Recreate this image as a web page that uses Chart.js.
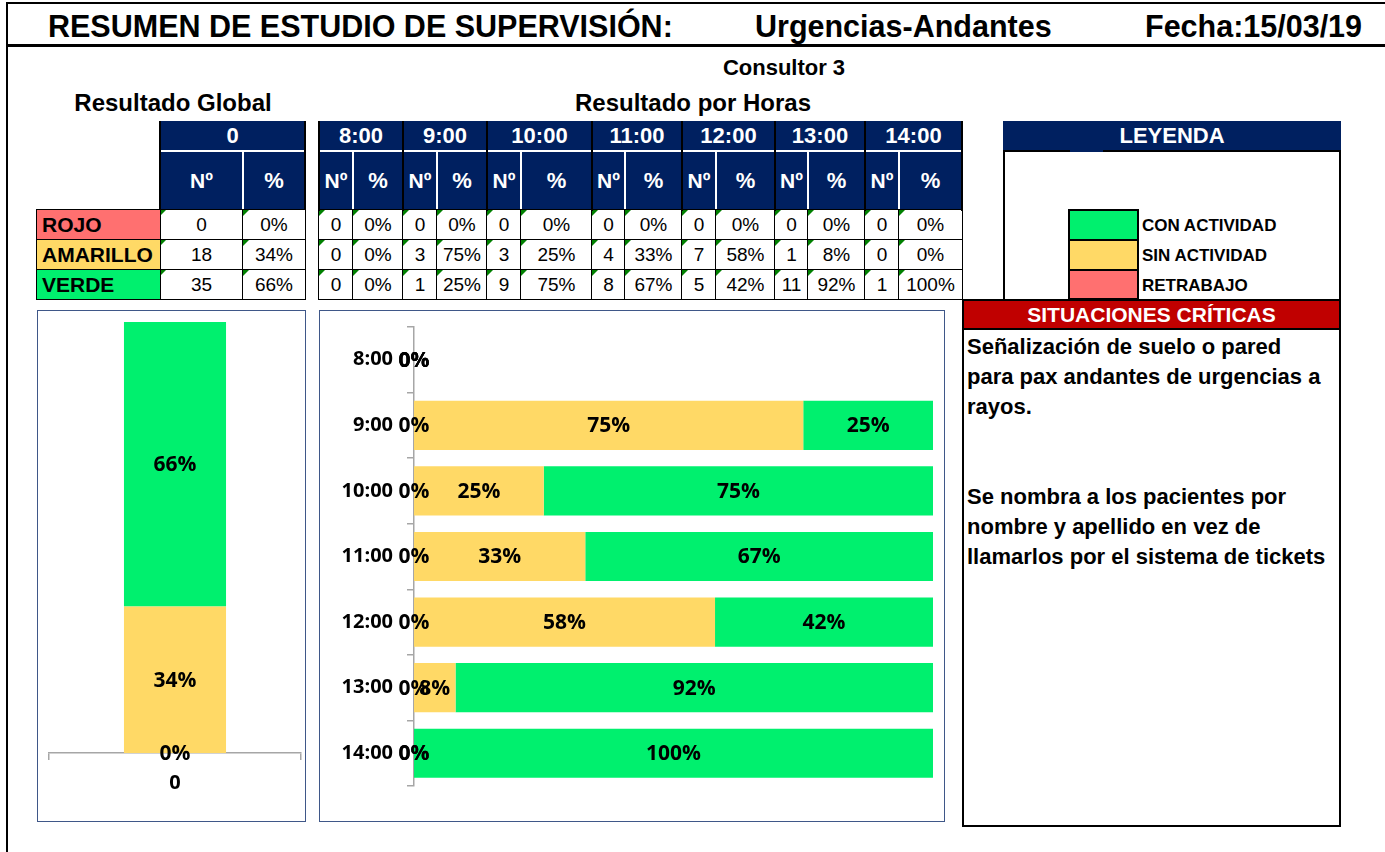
<!DOCTYPE html>
<html lang="es">
<head>
<meta charset="utf-8">
<title>Resumen de estudio de supervisión</title>
<script src="https://cdn.jsdelivr.net/npm/chart.js@4.4.1/dist/chart.umd.min.js"></script>
<style>
  body { margin: 0; width: 1385px; height: 852px; overflow: hidden; background: #fff; position: relative;
         font-family: "Liberation Sans", Arial, sans-serif; color: #000; }
  .abs { position: absolute; box-sizing: border-box; }
  .txt { position: absolute; font-weight: bold; white-space: nowrap; line-height: 1; }
  .hd { position: absolute; box-sizing: border-box; background: #002060; color: #fff; font-weight: bold;
        display: flex; align-items: center; justify-content: center; }
  .val { position: absolute; box-sizing: border-box; background: #fff; border: 1px solid #000; font-size: 19px;
         display: flex; align-items: center; justify-content: center; }
  .val::before { content: ''; position: absolute; left: 0; top: 0;
                 border-top: 6px solid #008000; border-right: 6px solid transparent; }
  .lbl { position: absolute; box-sizing: border-box; border: 1px solid #000; font-size: 21px; font-weight: bold;
         display: flex; align-items: center; padding-left: 5px; }
  .marco { position: absolute; box-sizing: border-box; border: 1.5px solid #3F5788; }
  canvas { position: absolute; }
</style>
</head>
<body>
<canvas id="global" width="266" height="509" style="left:38px; top:311px;"></canvas>
<canvas id="horas" width="622" height="509" style="left:320px; top:311px;"></canvas>
<script>
// valores del estudio
const estados = ['ROJO', 'AMARILLO', 'VERDE'];
const grupos = ['0'];
const globalNum = [0, 18, 35];
const globalPct = [0, 34, 66];

const horas = ['8:00', '9:00', '10:00', '11:00', '12:00', '13:00', '14:00'];
const rojoNum = [0, 0, 0, 0, 0, 0, 0];
const amarilloNum = [0, 3, 3, 4, 7, 1, 0];
const verdeNum = [0, 1, 9, 8, 5, 11, 1];
const rojoPct = [0, 0, 0, 0, 0, 0, 0];
const amarilloPct = [0, 75, 25, 33, 58, 8, 0];
const verdePct = [0, 25, 75, 67, 42, 92, 100];

const leyenda = ['CON ACTIVIDAD', 'SIN ACTIVIDAD', 'RETRABAJO'];
const situaciones = [
  'Señalización de suelo o pared',
  'para pax andantes de urgencias a',
  'rayos.',
  '',
  '',
  'Se nombra a los pacientes por',
  'nombre y apellido en vez de',
  'llamarlos por el sistema de tickets'
];

const colorRojo = '#FF7070';
const colorAmarillo = '#FFD966';
const colorVerde = '#00F06E';
const coloresEstado = [colorRojo, colorAmarillo, colorVerde];
const coloresLeyenda = [colorVerde, colorAmarillo, colorRojo];

// helpers de maquetacion
function el(cls, x, y, w, h, text, extra) {
  const d = document.createElement('div');
  d.className = cls;
  d.style.left = x + 'px';
  d.style.top = y + 'px';
  if (w != null) d.style.width = w + 'px';
  if (h != null) d.style.height = h + 'px';
  if (text != null) d.textContent = text;
  if (extra) Object.assign(d.style, extra);
  document.body.appendChild(d);
  return d;
}
function line(x, y, w, h, color) {
  return el('abs', x, y, w, h, null, { background: color });
}
function texto(str, x, y, size, centrado, extra) {
  const d = el('txt', x, y, null, null, str, Object.assign({ fontSize: size + 'px' }, extra || {}));
  d.style.transform = centrado ? 'translate(-50%, -50%)' : 'translateY(-50%)';
  return d;
}

// marco y cabecera
line(6, 2, 1379, 2, '#000');
line(6, 2, 2, 850, '#000');
line(6, 44, 1379, 3, '#000');
texto('RESUMEN DE ESTUDIO DE SUPERVISIÓN:', 48, 26, 30.5, false);
texto('Urgencias-Andantes', 755, 26, 30.5, false);
texto('Fecha:15/03/19', 1145, 26, 30.5, false);
texto('Consultor 3', 784, 68, 22, true);
texto('Resultado Global', 173, 103, 24, true);
texto('Resultado por Horas', 693, 103, 24, true);

const filas = [210, 240, 270, 299];

// tabla global
function grupoCabecera(x0, x1, x2, titulo) {
  el('hd', x0, 121, x2 - x0, 30, titulo, { fontSize: '22px' });
  el('hd', x0, 151, x1 - x0, 59, 'Nº', { fontSize: '21px' });
  el('hd', x1, 151, x2 - x1, 59, '%', { fontSize: '22px' });
  line(x0 + 1, 150, x2 - x0 - 2, 2, '#fff');
  line(x1 - 1, 151, 2, 59, '#fff');
}
function valores(x0, x1, x2, nums, pcts) {
  for (let r = 0; r < 3; r++) {
    const y0 = filas[r], y1 = filas[r + 1];
    el('val', x0 - 1, y0 - 1, x1 - x0 + 2, y1 - y0 + 2, String(nums[r]));
    el('val', x1 - 1, y0 - 1, x2 - x1 + 2, y1 - y0 + 2, pcts[r] + '%');
  }
}

grupoCabecera(160, 243, 305, grupos[0]);
line(159, 121, 2, 90, '#000');
line(304, 121, 2, 90, '#000');
valores(160, 243, 305, globalNum, globalPct);
estados.forEach((e, r) => {
  el('lbl', 36, filas[r] - 1, 125, filas[r + 1] - filas[r] + 2, e, { background: coloresEstado[r] });
});

// tabla por horas
const columnas = [[319, 353, 403], [403, 437, 487], [487, 521, 592], [592, 625, 682],
                  [682, 716, 775], [775, 808, 865], [865, 899, 962]];
horas.forEach((h, i) => {
  const [x0, x1, x2] = columnas[i];
  grupoCabecera(x0, x1, x2, h);
  valores(x0, x1, x2, [rojoNum[i], amarilloNum[i], verdeNum[i]], [rojoPct[i], amarilloPct[i], verdePct[i]]);
  line(x0 - 1, 121, 2, 90, '#000');
});
line(961, 121, 2, 90, '#000');

// leyenda
el('abs', 1003, 121, 338, 180, null, { border: '2px solid #000' });
el('hd', 1003, 121, 338, 30, 'LEYENDA', { fontSize: '22px' });
line(1003, 150, 338, 2, '#000');
line(1070, 150, 33, 2, '#002060');
leyenda.forEach((t, r) => {
  el('abs', 1068, filas[r] - 1, 71, filas[r + 1] - filas[r] + 2, null,
     { background: coloresLeyenda[r], border: '2px solid #000' });
  texto(t, 1142, (filas[r] + filas[r + 1]) / 2, 17, false);
});

// situaciones criticas
el('abs', 962, 299, 379, 528, null, { border: '2px solid #000' });
el('hd', 962, 299, 379, 31, 'SITUACIONES CRÍTICAS', { fontSize: '21px', background: '#C00000', border: '2px solid #000' });
situaciones.forEach((t, i) => {
  if (t) texto(t, 967, 347 + i * 30, 22, false);
});

// marcos de los graficos
el('marco', 37, 310, 269, 512);
el('marco', 319, 310, 626, 512);

// etiquetas de porcentaje sobre cada segmento
const etiquetas = {
  id: 'etiquetas',
  afterDatasetsDraw(chart) {
    const ctx = chart.ctx;
    ctx.save();
    ctx.font = 'bold 21px "Open Sans"';
    ctx.fillStyle = '#000';
    ctx.textAlign = 'center';
    ctx.textBaseline = 'middle';
    chart.data.datasets.forEach((ds, i) => {
      chart.getDatasetMeta(i).data.forEach((bar, j) => {
        const p = bar.getCenterPoint();
        ctx.fillText(ds.data[j] + '%', p.x, p.y + 1);
      });
    });
    ctx.restore();
  }
};

const fuenteEje = { family: '"Open Sans"', weight: 'bold', size: 20 };
const gris = '#A6A6A6';

function dibujar() {
  new Chart(document.getElementById('global'), {
    type: 'bar',
    data: {
      labels: grupos,
      datasets: [
        { label: 'ROJO', data: [globalPct[0]], backgroundColor: colorRojo },
        { label: 'AMARILLO', data: [globalPct[1]], backgroundColor: colorAmarillo },
        { label: 'VERDE', data: [globalPct[2]], backgroundColor: colorVerde }
      ]
    },
    options: {
      responsive: false,
      animation: false,
      events: [],
      layout: { padding: { left: 11, right: 3, top: 11, bottom: 0 } },
      datasets: { bar: { categoryPercentage: 1, barPercentage: 0.405 } },
      plugins: { legend: { display: false }, tooltip: { enabled: false } },
      scales: {
        x: {
          stacked: true,
          afterFit: s => { s.height = 67; s.paddingLeft = 0; s.paddingRight = 0; },
          grid: { drawOnChartArea: false, tickLength: 7, color: gris, lineWidth: 1.5 },
          border: { color: gris, width: 1.5 },
          ticks: { padding: 11, color: '#000', font: fuenteEje }
        },
        y: { stacked: true, display: false, min: 0, max: 100 }
      }
    },
    plugins: [etiquetas]
  });

  new Chart(document.getElementById('horas'), {
    type: 'bar',
    data: {
      labels: horas,
      datasets: [
        { label: 'ROJO', data: rojoPct, backgroundColor: colorRojo },
        { label: 'AMARILLO', data: amarilloPct, backgroundColor: colorAmarillo },
        { label: 'VERDE', data: verdePct, backgroundColor: colorVerde }
      ]
    },
    options: {
      indexAxis: 'y',
      responsive: false,
      animation: false,
      events: [],
      layout: { padding: { left: 0, right: 9, top: 16, bottom: 34 } },
      datasets: { bar: { categoryPercentage: 1, barPercentage: 0.75 } },
      plugins: { legend: { display: false }, tooltip: { enabled: false } },
      scales: {
        x: { stacked: true, display: false, min: 0, max: 100 },
        y: {
          stacked: true,
          afterFit: s => { s.width = 94; s.paddingTop = 0; s.paddingBottom = 0; },
          grid: { drawOnChartArea: false, tickLength: 7, color: gris, lineWidth: 1.5 },
          border: { color: gris, width: 1.5 },
          ticks: { padding: 14, color: '#000', font: fuenteEje }
        }
      }
    },
    plugins: [etiquetas]
  });
}

document.fonts.load('bold 21px "Open Sans"').then(dibujar, dibujar);
</script>
</body>
</html>
